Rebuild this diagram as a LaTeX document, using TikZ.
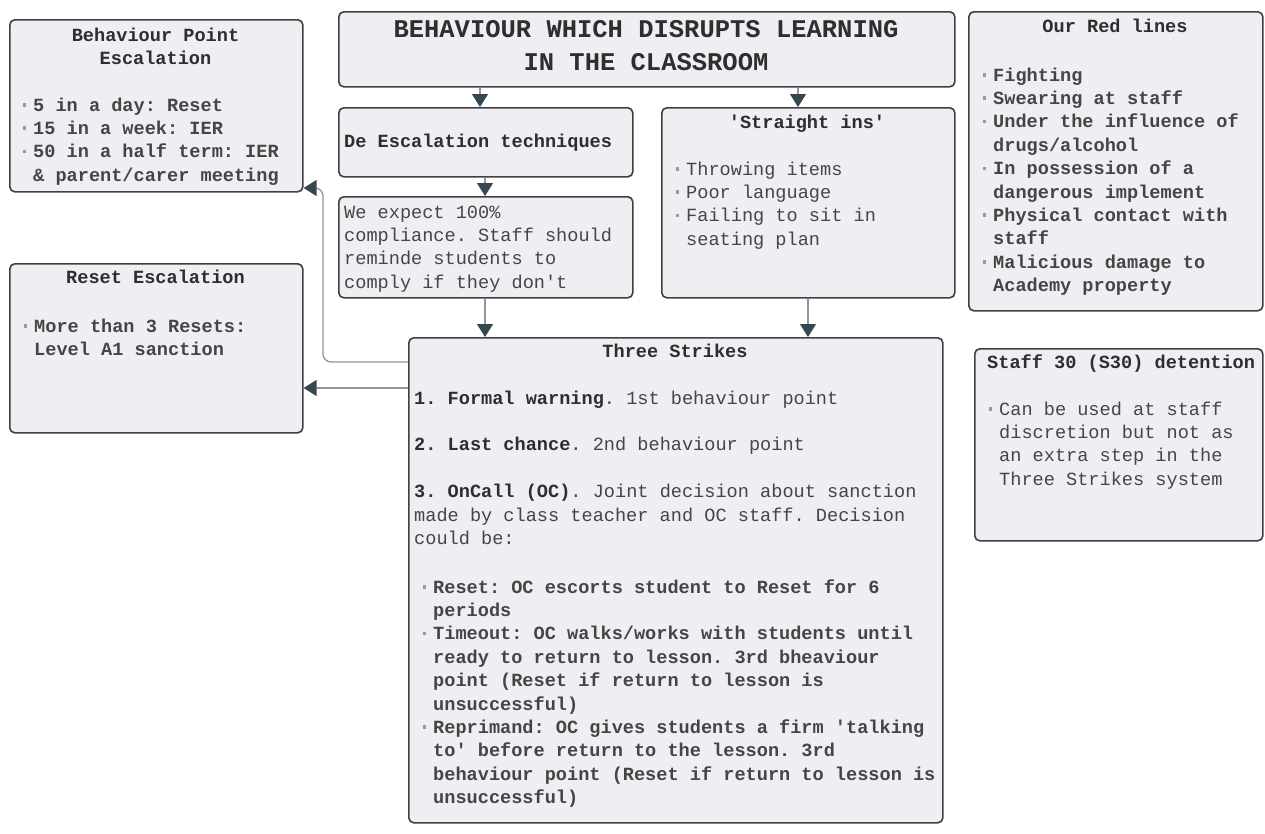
\documentclass[tikz,border=0pt]{standalone}
\usepackage{fontspec}
\setmainfont{Liberation Mono}
\usetikzlibrary{arrows.meta,calc}
\definecolor{boxfill}{HTML}{EFEFF3}
\definecolor{boxdraw}{HTML}{404040}
\definecolor{arrowc}{HTML}{37474F}
\definecolor{linec}{HTML}{8E969C}
\definecolor{headc}{HTML}{2E2E2E}
\definecolor{bodyc}{HTML}{454545}
\definecolor{bulc}{HTML}{9A9A9A}
\frenchspacing
\newcommand\bul{\leavevmode\llap{\textcolor{bulc}{\rule[4.5pt]{3.5pt}{3.5pt}}\hspace{7pt}}}
\newcommand\Txt[2]{\begin{minipage}[t]{#1}\fontsize{18.6pt}{23.4pt}\selectfont\frenchspacing\raggedright #2\end{minipage}}
\newcommand\Ctr[2]{\begin{minipage}[t]{#1}\fontsize{18.6pt}{23.4pt}\selectfont\frenchspacing\centering #2\end{minipage}}
\newcommand\q{\textquotesingle}
\begin{document}
\begin{tikzpicture}[x=1pt,y=-1pt,
 box/.style={draw=boxdraw, fill=boxfill, line width=1.6pt, rounded corners=5pt, inner sep=0pt, anchor=north west},
 arr/.style={draw=linec, line width=1.3pt, -{Triangle[length=13pt,width=16pt,color=arrowc]}},
 txt/.style={inner sep=0pt, anchor=base west, text=bodyc},
 hd/.style={inner sep=0pt, anchor=base, text=headc, font=\bfseries}]
\useasboundingbox (0,0) rectangle (1265,833);

% boxes
\node[box, minimum width=293pt, minimum height=172pt] (bp) at (9,19) {};
\node[box, minimum width=616pt, minimum height=75pt] (title) at (338,11) {};
\node[box, minimum width=294pt, minimum height=69pt] (de) at (338,107) {};
\node[box, minimum width=294pt, minimum height=101pt] (we) at (338,196) {};
\node[box, minimum width=293pt, minimum height=190pt] (si) at (661,107) {};
\node[box, minimum width=294pt, minimum height=299pt] (rl) at (968,11) {};
\node[box, minimum width=293pt, minimum height=169pt] (rs) at (9,263) {};
\node[box, minimum width=534pt, minimum height=485pt] (ts) at (408,337) {};
\node[box, minimum width=288pt, minimum height=192pt] (s30) at (974,348) {};

% connector coordinates
\coordinate (xa) at (480,0);
\coordinate (xb) at (798,0);
\coordinate (xc) at (485,0);
\coordinate (xd) at (808,0);
\coordinate (c1) at (323,362);
\coordinate (c2) at (323,188);

\draw[arr] (title.south -| xa) -- (de.north -| xa);
\draw[arr] (title.south -| xb) -- (si.north -| xb);
\draw[arr] (de.south -| xc) -- (we.north -| xc);
\draw[arr] (we.south -| xc) -- (ts.north -| xc);
\draw[arr] (si.south -| xd) -- (ts.north -| xd);
\draw[arr, rounded corners=8pt] ([yshift=-25pt]ts.north west) -- (c1) -- (c2) -- (bp.east |- c2);
\coordinate (c3) at ([yshift=-51pt]ts.north west);
\draw[arr] (c3) -- (rs.east |- c3);

% texts
\node[hd] (bpt) at (155.5,41) {\Ctr{290pt}{Behaviour Point\\Escalation}};
\node[txt, font=\bfseries] (bpb) at (33,111) {\Txt{270pt}{\bul 5 in a day: Reset\\
\bul 15 in a week: IER\\
\bul 50 in a half term: IER\\
\& parent/carer meeting}};

\node[hd] (tt) at (646,37) {\begin{minipage}[t]{610pt}\fontsize{25.5pt}{33pt}\selectfont\centering BEHAVIOUR WHICH DISRUPTS LEARNING\\IN THE CLASSROOM\end{minipage}};

\node[hd, anchor=base west] (det) at (344,147) {\Txt{290pt}{De Escalation techniques}};
\node[txt] (wet) at (344,218) {\Txt{290pt}{We expect 100\%\\
compliance. Staff should\\
reminde students to\\
comply if they don\q t}};

\node[hd] (sit) at (807,128) {\Ctr{290pt}{\q Straight ins\q}};
\node[txt] (sib) at (686,175) {\Txt{265pt}{\bul Throwing items\\
\bul Poor language\\
\bul Failing to sit in\\
seating plan}};

\node[hd] (rlt) at (1115,32) {\Ctr{290pt}{Our Red lines}};
\node[txt, font=\bfseries] (rlb) at (993,81) {\Txt{268pt}{\bul Fighting\\
\bul Swearing at staff\\
\bul Under the influence of\\
drugs/alcohol\\
\bul In possession of a\\
dangerous implement\\
\bul Physical contact with\\
staff\\
\bul Malicious damage to\\
Academy property}};

\node[hd] (rst) at (155.5,283) {\Ctr{290pt}{Reset Escalation}};
\node[txt, font=\bfseries] (rsb) at (34,332) {\Txt{265pt}{\bul More than 3 Resets:\\
Level A1 sanction}};

\node[hd] (tst) at (675,357) {\Ctr{520pt}{Three Strikes}};
\node[txt] (tsb) at (414,404) {\Txt{560pt}{\textbf{\textcolor{headc}{1. Formal warning}}. 1st behaviour point\\
~\\
\textbf{\textcolor{headc}{2. Last chance}}. 2nd behaviour point\\
~\\
\textbf{\textcolor{headc}{3. OnCall (OC)}}. Joint decision about sanction\\
made by class teacher and OC staff. Decision\\
could be:}};
\node[txt, font=\bfseries] (tsl) at (433,593) {\Txt{560pt}{\bul Reset: OC escorts student to Reset for 6\\
periods\\
\bul Timeout: OC walks/works with students until\\
ready to return to lesson. 3rd bheaviour\\
point (Reset if return to lesson is\\
unsuccessful)\\
\bul Reprimand: OC gives students a firm \q talking\\
to\q{} before return to the lesson. 3rd\\
behaviour point (Reset if return to lesson is\\
unsuccessful)}};

\node[hd, anchor=base west] (s3t) at (987,368) {\Txt{280pt}{Staff 30 (S30) detention}};
\node[txt] (s3b) at (999,415) {\Txt{262pt}{\bul Can be used at staff\\
discretion but not as\\
an extra step in the\\
Three Strikes system}};
\end{tikzpicture}
\end{document}
